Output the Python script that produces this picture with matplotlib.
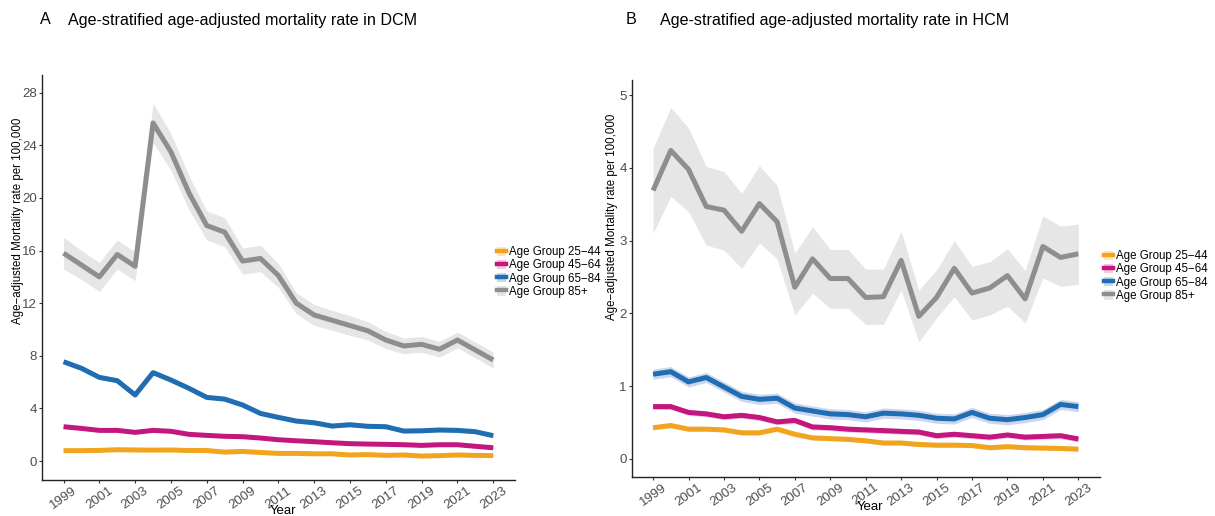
import matplotlib
matplotlib.use("Agg")
import matplotlib.pyplot as plt
from matplotlib.lines import Line2D
from matplotlib.patches import Patch
import numpy as np

plt.rcParams['font.family'] = ['Liberation Sans', 'DejaVu Sans']

years = list(range(1999, 2024))
groups = ["Age Group 25\u221244", "Age Group 45\u221264", "Age Group 65\u221284", "Age Group 85+"]
line_colors = ["#F2A41F", "#C4167F", "#1F6DB3", "#8E8E8E"]
band_colors = ["#FBE6C4", "#F1C9DF", "#CDD6EC", "#E6E6E6"]

# DCM rates per 100,000
dcm_25_44 = [0.79, 0.79, 0.81, 0.86, 0.84, 0.83, 0.84, 0.80, 0.80, 0.68, 0.73, 0.65, 0.58,
             0.58, 0.55, 0.55, 0.46, 0.49, 0.43, 0.46, 0.38, 0.41, 0.46, 0.43, 0.41]
dcm_45_64 = [2.61, 2.48, 2.33, 2.33, 2.18, 2.33, 2.26, 2.03, 1.95, 1.88, 1.85, 1.75, 1.62,
             1.54, 1.47, 1.39, 1.32, 1.29, 1.27, 1.24, 1.19, 1.24, 1.24, 1.12, 1.01]
dcm_65_84 = [7.55, 7.05, 6.36, 6.11, 5.02, 6.72, 6.16, 5.53, 4.84, 4.71, 4.26, 3.62, 3.32,
             3.04, 2.91, 2.66, 2.76, 2.64, 2.61, 2.28, 2.30, 2.36, 2.33, 2.23, 1.93]
dcm_85 = [15.8, 14.9, 14.0, 15.7, 14.8, 25.7, 23.5, 20.4, 17.9, 17.4, 15.2, 15.4, 14.1,
          12.0, 11.1, 10.7, 10.3, 9.9, 9.2, 8.75, 8.87, 8.5, 9.2, 8.44, 7.68]
dcm_85_hw = [1.2, 1.1, 1.1, 1.1, 1.1, 1.5, 1.4, 1.3, 1.1, 1.1, 1.0, 1.0, 0.9,
             0.8, 0.8, 0.75, 0.75, 0.7, 0.65, 0.6, 0.6, 0.6, 0.6, 0.6, 0.6]
dcm_hw_small = [0.07, 0.1, 0.15]

# HCM rates per 100,000
hcm_25_44 = [0.43, 0.46, 0.41, 0.41, 0.40, 0.36, 0.36, 0.41, 0.34, 0.29, 0.28, 0.27, 0.25,
             0.22, 0.22, 0.20, 0.19, 0.19, 0.185, 0.155, 0.17, 0.155, 0.15, 0.145, 0.135]
hcm_45_64 = [0.72, 0.72, 0.64, 0.62, 0.58, 0.60, 0.57, 0.51, 0.53, 0.44, 0.43, 0.41, 0.40,
             0.39, 0.38, 0.37, 0.32, 0.34, 0.32, 0.30, 0.33, 0.30, 0.31, 0.32, 0.275]
hcm_65_84 = [1.165, 1.20, 1.06, 1.12, 0.99, 0.86, 0.82, 0.835, 0.70, 0.66, 0.62, 0.61, 0.58,
             0.63, 0.62, 0.60, 0.56, 0.55, 0.64, 0.56, 0.54, 0.57, 0.61, 0.75, 0.72]
hcm_85 = [3.69, 4.24, 3.98, 3.47, 3.42, 3.13, 3.51, 3.26, 2.36, 2.75, 2.48, 2.48, 2.22,
          2.23, 2.73, 1.96, 2.22, 2.62, 2.28, 2.35, 2.52, 2.20, 2.92, 2.77, 2.82]
hcm_85_lo = [3.10, 3.61, 3.40, 2.94, 2.87, 2.62, 2.97, 2.75, 1.98, 2.28, 2.07, 2.07, 1.85,
             1.85, 2.32, 1.61, 1.94, 2.23, 1.91, 1.98, 2.10, 1.87, 2.49, 2.37, 2.40]
hcm_85_hi = [4.27, 4.83, 4.55, 4.02, 3.95, 3.65, 4.03, 3.76, 2.83, 3.19, 2.88, 2.88, 2.61,
             2.61, 3.13, 2.32, 2.60, 3.00, 2.65, 2.71, 2.89, 2.59, 3.34, 3.20, 3.23]
hcm_hw_small = [0.03, 0.04, 0.07]

YLABEL = "Age\u2212adjusted Mortality rate per 100,000"


def draw_panel(ax, series, lows, highs, yticks, ylim):
    for lo, hi, bc in zip(lows, highs, band_colors):
        ax.fill_between(years, lo, hi, color=bc, lw=0, zorder=1)
    for vals, lc in zip(series, line_colors):
        ax.plot(years, vals, color=lc, lw=3.6, solid_capstyle='butt', zorder=3)
    ax.set_xlim(years[0] - 1.2, years[-1] + 1.2)
    ax.set_ylim(*ylim)
    ax.set_xticks(years[::2])
    ax.set_xticklabels([str(y) for y in years[::2]], rotation=35, ha='center', va='top')
    ax.set_yticks(yticks)
    ax.tick_params(axis='both', colors='#333333', labelcolor='#4D4D4D', labelsize=9.5,
                   length=2.0, width=0.8, pad=1.5)
    for s in ['top', 'right']:
        ax.spines[s].set_visible(False)
    for s in ['left', 'bottom']:
        ax.spines[s].set_color('#222222')
        ax.spines[s].set_linewidth(1.0)
    ax.set_xlabel("Year", fontsize=9.5, va='center')
    ax.xaxis.set_label_coords(0.51, -0.076)


fig = plt.figure(figsize=(12.15, 5.16), dpi=100)
ax_a = fig.add_axes([0.0346, 0.0698, 0.389, 0.785])
ax_b = fig.add_axes([0.520, 0.0762, 0.385, 0.769])

dcm = [dcm_25_44, dcm_45_64, dcm_65_84, dcm_85]
dcm_lo = [np.array(v) - h for v, h in zip(dcm[:3], dcm_hw_small)] + [np.array(dcm_85) - np.array(dcm_85_hw)]
dcm_hi = [np.array(v) + h for v, h in zip(dcm[:3], dcm_hw_small)] + [np.array(dcm_85) + np.array(dcm_85_hw)]
draw_panel(ax_a, dcm, dcm_lo, dcm_hi, [0, 4, 8, 12, 16, 20, 24, 28], (-1.44, 29.35))

hcm = [hcm_25_44, hcm_45_64, hcm_65_84, hcm_85]
hcm_lo = [np.array(v) - h for v, h in zip(hcm[:3], hcm_hw_small)] + [hcm_85_lo]
hcm_hi = [np.array(v) + h for v, h in zip(hcm[:3], hcm_hw_small)] + [hcm_85_hi]
draw_panel(ax_b, hcm, hcm_lo, hcm_hi, [0, 1, 2, 3, 4, 5], (-0.243, 5.21))

# y-axis titles sit a little above the panel centre
fig.text(18 / 1215, 1 - 221 / 516, YLABEL, rotation=90, fontsize=8.3, ha='center', va='center')
fig.text(612 / 1215, 1 - 217 / 516, YLABEL, rotation=90, fontsize=8.3, ha='center', va='center')

handles = [(Patch(facecolor=bc, edgecolor='none'), Line2D([], [], color=lc, lw=3.2))
           for lc, bc in zip(line_colors, band_colors)]
for x, y in [(497 / 1215, 1 - 272 / 516), (1104 / 1215, 1 - 276 / 516)]:
    fig.legend(handles, groups, loc='center left', bbox_to_anchor=(x, y),
               frameon=False, fontsize=8.3, handlelength=0.75, handleheight=0.9,
               handletextpad=0.3, labelspacing=0.1, borderaxespad=0, borderpad=0)

title_y = 1 - 20 / 516
fig.text(40 / 1215, title_y, "A", fontsize=11.6, va='center')
fig.text(68 / 1215, title_y, "Age-stratified age-adjusted mortality rate in DCM", fontsize=11.6, va='center')
fig.text(626 / 1215, title_y, "B", fontsize=11.6, va='center')
fig.text(660 / 1215, title_y, "Age-stratified age-adjusted mortality rate in HCM", fontsize=11.6, va='center')

fig.savefig("out.png", dpi=100)
